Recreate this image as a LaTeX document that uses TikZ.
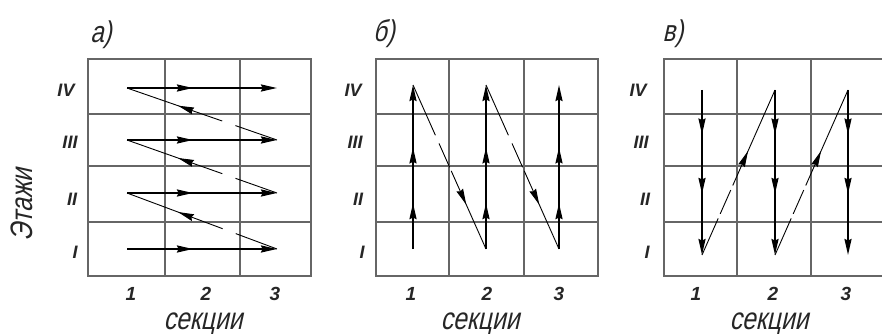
\documentclass[tikz,border=0pt]{standalone}
\usepackage{fontspec}
\setmainfont{Liberation Sans}
\newfontfamily\gost[FakeSlant=0.22,FakeStretch=0.8]{Liberation Sans}
\usetikzlibrary{arrows.meta,decorations.markings}
\begin{document}
\begin{tikzpicture}[x=1pt,y=-1pt,
  >={Stealth[length=16pt,width=7pt,inset=1.5pt]},
  gridline/.style={draw=black!60, line width=1.2pt},
  flow/.style={line width=1.8pt, ->},
  diag/.style={line width=0.9pt},
  tipat/.style={postaction={decorate}, decoration={markings, mark=at position #1 with {\arrow{>}}}},
  tipstwo/.style 2 args={postaction={decorate}, decoration={markings, mark=at position #1 with {\arrow{>}}, mark=at position #2 with {\arrow{>}}}},
  roman/.style={font=\fontsize{18}{18}\selectfont\bfseries\itshape, text=black!85, inner sep=0pt},
  digit/.style={font=\fontsize{19}{19}\selectfont\bfseries\itshape, text=black!85, inner sep=0pt},
  gosttext/.style={font=\gost\fontsize{31}{31}\selectfont, text=black!85, inner sep=0pt},
  paneltitle/.style={font=\gost\fontsize{30}{30}\selectfont, text=black!85, inner sep=0pt, anchor=base}]
\useasboundingbox (0,0) rectangle (882,334);

% ---------- grids ----------
\draw[gridline] (88,59) rectangle (311,276);
\draw[gridline] (165,59) -- (165,276) (240,59) -- (240,276);
\draw[gridline] (88,114) -- (311,114) (88,166) -- (311,166) (88,222) -- (311,222);

\draw[gridline] (376,59) rectangle (598,276);
\draw[gridline] (449,59) -- (449,276) (524,59) -- (524,276);
\draw[gridline] (376,114) -- (598,114) (376,166) -- (598,166) (376,222) -- (598,222);

\draw[gridline] (882,59) -- (664,59) -- (664,276) -- (882,276);
\draw[gridline] (737,59) -- (737,276) (811,59) -- (811,276);
\draw[gridline] (664,114) -- (882,114) (664,166) -- (882,166) (664,222) -- (882,222);

% ---------- labels ----------
\node[paneltitle] (ta) at (101,43) {а)};
\node[paneltitle] (tb) at (384,42) {б)};
\node[paneltitle] (tc) at (673,42) {в)};

\node[gosttext, rotate=90] (floors) at (22,205) {Этажи};

\foreach \p/\xa/\xb/\xc/\xd in {a/66/70/72/75, b/353/355/358/362, c/638/641/645/647}{
  \node[roman] (\p-IV) at (\xa,90) {IV};
  \node[roman] (\p-III) at (\xb,142) {III};
  \node[roman] (\p-II) at (\xc,199) {II};
  \node[roman] (\p-I) at (\xd,252) {I};
}
\foreach \p/\xa/\xb/\xc/\xs in {a/131/206/275/203, b/411/487/559/480, c/696/773/846/769}{
  \node[digit] (\p-n1) at (\xa,294) {1};
  \node[digit] (\p-n2) at (\xb,294) {2};
  \node[digit] (\p-n3) at (\xc,294) {3};
  \node[gosttext, anchor=base] (\p-sec) at (\xs,329) {секции};
}

% ---------- panel a ----------
\foreach \r/\y in {1/249, 2/193, 3/140, 4/88}{
  \coordinate (aS\r) at (127,\y);
  \coordinate (aE\r) at (277,\y);
  \draw[flow, tipat=0.44] (aS\r) -- (aE\r);
}
\foreach \r/\s in {1/2, 2/3, 3/4}{
  \draw[diag, dash pattern=on 44pt off 14pt on 300pt, tipat=0.66] (aE\r) -- (aS\s);
}

% ---------- panel b ----------
\foreach \c/\x in {1/413, 2/486, 3/559}{
  \coordinate (bB\c) at (\x,249);
  \coordinate (bT\c) at (\x,85);
  \draw[flow, tipstwo={0.28}{0.62}] (bB\c) -- (bT\c);
}
\foreach \c/\d in {1/2, 2/3}{
  \draw[diag, dash pattern=on 55pt off 9pt on 26pt off 4pt on 300pt, tipat=0.73] (bT\c) -- (bB\d);
}

% ---------- panel c ----------
\foreach \c/\x in {1/702, 2/775, 3/848}{
  \coordinate (cT\c) at (\x,90);
  \coordinate (cB\c) at (\x,255);
  \draw[flow, tipstwo={0.27}{0.63}] (cT\c) -- (cB\c);
}
\foreach \c/\d in {1/2, 2/3}{
  \draw[diag, dash pattern=on 40pt off 5pt on 26pt off 5pt on 26pt off 4pt on 300pt, tipat=0.63] (cB\c) -- (cT\d);
}
\end{tikzpicture}
\end{document}
